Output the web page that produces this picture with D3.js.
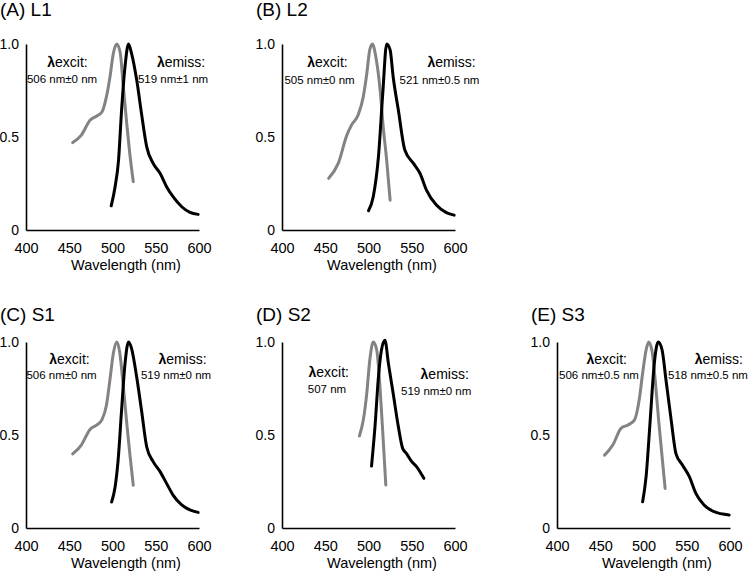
<!DOCTYPE html>
<html>
<head>
<meta charset="utf-8">
<script src="https://cdn.jsdelivr.net/npm/d3@7"></script>
<style>
  html, body { margin: 0; padding: 0; background: #fff; }
  svg { display: block; font-family: "Liberation Sans", Arial, Helvetica, sans-serif; }
</style>
</head>
<body>
<svg id="chart" width="749" height="571"></svg>
<script>
// ---------- DATA ----------
const panelTitles = ["(A) L1", "(B) L2", "(C) S1", "(D) S2", "(E) S3"];
const xTickValues = [400, 450, 500, 550, 600];
const yTickValues = [0, 0.5, 1.0];
const yTickLabels = ["0", "0.5", "1.0"];
const xAxisTitle = "Wavelength (nm)";
const excitLabel = "excit:";
const emissLabel = "emiss:";
const excitValues = ["506 nm\u00B10 nm", "505 nm\u00B10 nm", "506 nm\u00B10 nm", "507 nm", "506 nm\u00B10.5 nm"];
const emissValues = ["519 nm\u00B11 nm", "521 nm\u00B10.5 nm", "519 nm\u00B10 nm", "519 nm\u00B10 nm", "518 nm\u00B10.5 nm"];

// Excitation spectra (grey)
const l1ExWl = [454, 464, 474, 482, 488, 493, 497, 501, 505, 509, 512.5, 516.5, 520, 524];
const l1ExVal = [0.47, 0.51, 0.59, 0.613, 0.636, 0.717, 0.82, 0.95, 1.0, 0.95, 0.77, 0.57, 0.41, 0.26];
const l2ExWl = [454, 465, 475, 480.5, 488, 494, 498, 501.5, 504.5, 508.5, 513.5, 517, 521, 525];
const l2ExVal = [0.278, 0.358, 0.51, 0.565, 0.618, 0.717, 0.84, 0.97, 1.0, 0.93, 0.75, 0.555, 0.376, 0.16];
const s1ExWl = [454, 464, 474, 482, 487.5, 493, 497, 501, 505, 508.5, 512.5, 516.5, 520, 524];
const s1ExVal = [0.398, 0.446, 0.53, 0.554, 0.58, 0.66, 0.796, 0.94, 1.0, 0.94, 0.76, 0.563, 0.4, 0.23];
const s2ExWl = [489.5, 494, 498, 501.5, 505.5, 509.5, 513.5, 517, 520];
const s2ExVal = [0.495, 0.58, 0.724, 0.903, 1.0, 0.957, 0.742, 0.473, 0.231];
const s3ExWl = [455, 464.5, 474, 482, 489.5, 495, 499, 503, 506, 510, 513.5, 517.5, 521.5, 525];
const s3ExVal = [0.392, 0.446, 0.536, 0.554, 0.58, 0.688, 0.832, 0.957, 1.0, 0.948, 0.796, 0.58, 0.383, 0.213];

// Emission spectra (black)
const l1EmWl = [498.5, 503, 507, 510.5, 514.5, 518.5, 522, 528, 533.5, 539.5, 547, 555, 562.5, 570, 580, 589.5, 599];
const l1EmVal = [0.13, 0.233, 0.376, 0.645, 0.88, 1.0, 0.95, 0.806, 0.627, 0.448, 0.358, 0.305, 0.233, 0.179, 0.125, 0.095, 0.084];
const l2EmWl = [500, 505.5, 511.5, 516.5, 521, 525, 528.5, 534.5, 542, 552, 559.5, 567, 578.5, 590, 599];
const l2EmVal = [0.104, 0.179, 0.394, 0.735, 1.0, 0.968, 0.824, 0.645, 0.43, 0.358, 0.305, 0.215, 0.134, 0.093, 0.08];
const s1EmWl = [499, 503, 506.5, 510.5, 514.5, 518.5, 522, 528, 533.5, 539.5, 547, 555, 562.5, 570, 580, 589.5, 599];
const s1EmVal = [0.14, 0.22, 0.365, 0.634, 0.885, 1.0, 0.966, 0.81, 0.634, 0.437, 0.357, 0.303, 0.24, 0.177, 0.124, 0.097, 0.084];
const s2EmWl = [503.5, 507.5, 511.5, 515, 519, 523, 528.5, 534.5, 539.5, 544, 550, 555.5, 564];
const s2EmVal = [0.333, 0.545, 0.813, 0.957, 1.01, 0.885, 0.724, 0.545, 0.428, 0.40, 0.357, 0.33, 0.267];
const s3EmWl = [499, 503, 507.5, 512.5, 517, 521.5, 526, 532, 537.5, 545, 553, 560.5, 570, 581.5, 599];
const s3EmVal = [0.141, 0.276, 0.563, 0.885, 1.0, 0.957, 0.796, 0.58, 0.40, 0.339, 0.276, 0.186, 0.124, 0.088, 0.07];

const exWls = [l1ExWl, l2ExWl, s1ExWl, s2ExWl, s3ExWl];
const exVals = [l1ExVal, l2ExVal, s1ExVal, s2ExVal, s3ExVal];
const emWls = [l1EmWl, l2EmWl, s1EmWl, s2EmWl, s3EmWl];
const emVals = [l1EmVal, l2EmVal, s1EmVal, s2EmVal, s3EmVal];

// ---------- LAYOUT ----------
const plotW = 173, plotH = 186;
const panelOrigins = [ [26, 44], [282, 44], [26, 342], [282, 342], [557, 342] ];
const titleDy = [-28.3, -28.3, -21.5, -21.5, -21.5];
// annotation positions relative to panel origin: [exLabelX, exLabelY, exValX, exValY, emLabelX, emLabelY, emValX, emValY]
const annot = [
  [41.5, 22.5, 36, 39, 155, 22.5, 147, 39],
  [45.5, 22.5, 37.5, 40, 169.5, 23, 157.5, 40],
  [43.5, 21.5, 35.5, 37, 156.5, 21.5, 150, 37],
  [46.7, 34.7, 45, 50.7, 162.7, 37, 154.2, 53],
  [49.7, 21.5, 42, 37, 161.8, 21.5, 151, 37]
];

const GREY = "#838383";
const svg = d3.select("#chart");

panelTitles.forEach((title, i) => {
  const [ox, oy] = panelOrigins[i];
  const g = svg.append("g").attr("transform", `translate(${ox},${oy})`);
  const x = d3.scaleLinear().domain([400, 600]).range([0, plotW]);
  const y = d3.scaleLinear().domain([0, 1]).range([plotH, 0]);

  // x axis
  const xa = g.append("g").attr("transform", `translate(0,${plotH})`)
    .call(d3.axisBottom(x).tickValues(xTickValues).tickSize(0).tickSizeOuter(0).tickPadding(13).tickFormat(d3.format("d")));
  xa.select(".domain").attr("stroke", "#000").attr("stroke-width", 1.6);
  xa.selectAll("text").attr("font-size", 14.5).attr("font-family", "Liberation Sans, Arial, sans-serif").attr("fill", "#000");

  // y axis
  const ya = g.append("g")
    .call(d3.axisLeft(y).tickValues(yTickValues).tickSize(0).tickSizeOuter(0).tickPadding(7)
      .tickFormat((d, k) => yTickLabels[k]));
  ya.select(".domain").attr("stroke", "#000").attr("stroke-width", 1.6);
  ya.selectAll("text").attr("font-size", 14).attr("font-family", "Liberation Sans, Arial, sans-serif").attr("fill", "#000");

  // x axis title
  g.append("text").attr("x", 100).attr("y", plotH + 40)
    .attr("text-anchor", "middle").attr("font-size", 14.5).text(xAxisTitle);

  // panel title
  g.append("text").attr("x", -26).attr("y", titleDy[i])
    .attr("font-size", 19).text(title);

  const line = d3.line().x(d => x(d[0])).y(d => y(d[1])).curve(d3.curveMonotoneX);

  // excitation
  g.append("path").datum(d3.zip(exWls[i], exVals[i]))
    .attr("d", line).attr("fill", "none").attr("stroke", GREY)
    .attr("stroke-width", 3).attr("stroke-linejoin", "round").attr("stroke-linecap", "round");
  // emission
  g.append("path").datum(d3.zip(emWls[i], emVals[i]))
    .attr("d", line).attr("fill", "none").attr("stroke", "#000")
    .attr("stroke-width", 3).attr("stroke-linejoin", "round").attr("stroke-linecap", "round");

  const a = annot[i];
  const t1 = g.append("text").attr("x", a[0]).attr("y", a[1]).attr("text-anchor", "middle").attr("font-size", 14);
  t1.append("tspan").attr("font-weight", "bold").text("\u03BB");
  t1.append("tspan").text(excitLabel);
  g.append("text").attr("x", a[2]).attr("y", a[3]).attr("text-anchor", "middle").attr("font-size", 11.5).text(excitValues[i]);
  const t2 = g.append("text").attr("x", a[4]).attr("y", a[5]).attr("text-anchor", "middle").attr("font-size", 14);
  t2.append("tspan").attr("font-weight", "bold").text("\u03BB");
  t2.append("tspan").text(emissLabel);
  g.append("text").attr("x", a[6]).attr("y", a[7]).attr("text-anchor", "middle").attr("font-size", 11.5).text(emissValues[i]);
});
</script>
</body>
</html>
